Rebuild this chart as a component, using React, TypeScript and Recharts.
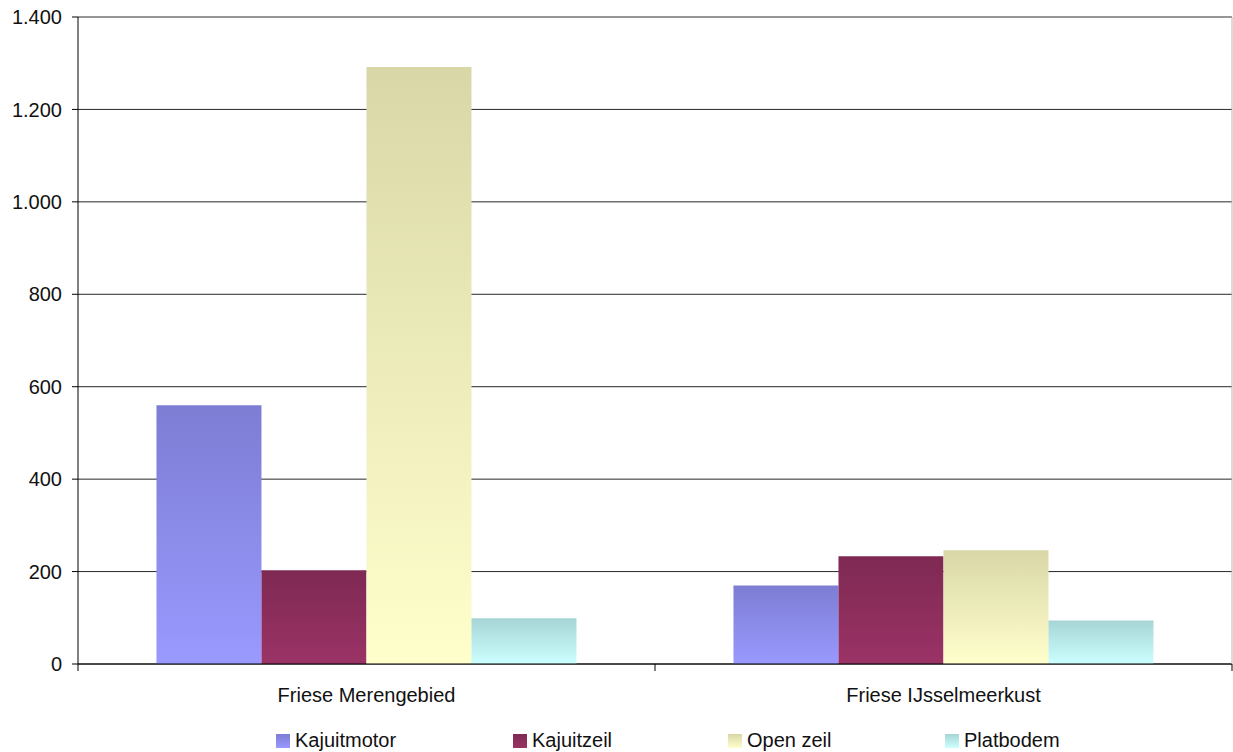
import { BarChart, Bar, XAxis, YAxis, CartesianGrid, ReferenceLine } from 'recharts';

const categories = ['Friese Merengebied', 'Friese IJsselmeerkust'];
const kajuitmotor = [560, 170];
const kajuitzeil = [203, 233];
const openZeil = [1292, 246];
const platbodem = [99, 94];
const yTicks = [0, 200, 400, 600, 800, 1000, 1200, 1400];

const series = [
  { key: 'kajuitmotor', name: 'Kajuitmotor', top: '#7d7dd4', bottom: '#9999ff' },
  { key: 'kajuitzeil', name: 'Kajuitzeil', top: '#7e2953', bottom: '#9b3366' },
  { key: 'openZeil', name: 'Open zeil', top: '#d9d7a7', bottom: '#ffffcc' },
  { key: 'platbodem', name: 'Platbodem', top: '#a7d5d5', bottom: '#ccffff' },
];

const data = categories.map((name, i) => ({
  name,
  kajuitmotor: kajuitmotor[i],
  kajuitzeil: kajuitzeil[i],
  openZeil: openZeil[i],
  platbodem: platbodem[i],
}));

const W = 1233;
const H = 752;
const Y_AXIS_W = 78;
const RIGHT_W = 1;
const FONT = '"Liberation Sans", Arial, sans-serif';
const band = (W - Y_AXIS_W - RIGHT_W) / categories.length;

const legendLeft = 276;
const legendWidths = [237, 215, 217, 200];

function dots(v: number): string {
  return String(v).replace(/\B(?=(\d{3})+(?!\d))/g, '.');
}

function CategoryTick(props: any) {
  const { x, y, payload, index } = props;
  const left = x - band / 2;
  const right = x + band / 2;
  return (
    <g>
      <line x1={left} y1={y} x2={left} y2={y + 7} stroke="#000" />
      {index === categories.length - 1 && (
        <line x1={right} y1={y} x2={right} y2={y + 7} stroke="#000" />
      )}
      <text x={x} y={y + 38} textAnchor="middle" fontSize={20} fontFamily={FONT} fill="#111">
        {payload.value}
      </text>
    </g>
  );
}

export default function App() {
  return (
    <div style={{ position: 'absolute', left: 0, top: 0, width: W, height: H, background: '#fff' }}>
      <BarChart
        width={W}
        height={H}
        data={data}
        margin={{ top: 17, right: 0, left: 0, bottom: 0 }}
        barCategoryGap="13.6%"
        barGap={0}
      >
        <defs>
          {series.map((s) => (
            <linearGradient key={s.key} id={`grad-${s.key}`} x1="0" y1="0" x2="0" y2="1">
              <stop offset="0%" stopColor={s.top} />
              <stop offset="100%" stopColor={s.bottom} />
            </linearGradient>
          ))}
        </defs>
        <CartesianGrid vertical={false} stroke="#000" strokeOpacity={0.85} />
        <XAxis
          dataKey="name"
          height={88}
          tickSize={0}
          tickMargin={0}
          axisLine={{ stroke: '#000' }}
          tickLine={false}
          tick={<CategoryTick />}
          interval={0}
        />
        <YAxis
          width={Y_AXIS_W}
          domain={[0, 1400]}
          ticks={yTicks}
          tickFormatter={dots}
          tickSize={6}
          tickMargin={10}
          axisLine={{ stroke: '#000' }}
          tickLine={{ stroke: '#000' }}
          tick={{ fontSize: 20, fontFamily: FONT, fill: '#111' }}
          interval={0}
        />
        <YAxis
          yAxisId="right"
          orientation="right"
          width={RIGHT_W}
          domain={[0, 1400]}
          tick={false}
          tickLine={false}
          axisLine={{ stroke: '#b5b5b5' }}
        />
        <ReferenceLine y={1400} stroke="#9a9a9a" />
        {series.map((s) => (
          <Bar
            key={s.key}
            dataKey={s.key}
            name={s.name}
            fill={`url(#grad-${s.key})`}
            isAnimationActive={false}
          />
        ))}
      </BarChart>
      <div
        style={{
          position: 'absolute',
          top: 729,
          left: legendLeft,
          display: 'flex',
          fontFamily: FONT,
          fontSize: 20,
          lineHeight: '23px',
          color: '#111',
          whiteSpace: 'nowrap',
        }}
      >
        {series.map((s, i) => (
          <div key={s.key} style={{ width: legendWidths[i], display: 'flex', alignItems: 'center' }}>
            <span
              style={{
                display: 'inline-block',
                width: 14,
                height: 14,
                marginRight: 5,
                background: `linear-gradient(${s.top}, ${s.bottom})`,
              }}
            />
            <span>{s.name}</span>
          </div>
        ))}
      </div>
    </div>
  );
}
